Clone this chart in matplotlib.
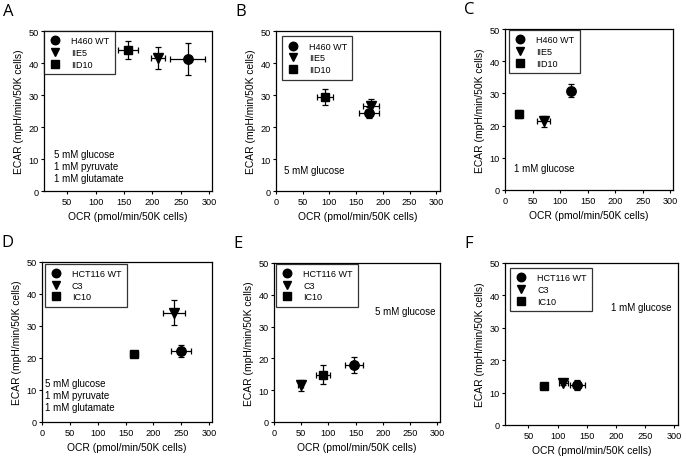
import matplotlib
matplotlib.use("Agg")
import matplotlib.pyplot as plt

plt.rcParams['font.family'] = ['Liberation Sans', 'DejaVu Sans']

panels = ['A', 'B', 'C', 'D', 'E', 'F']

# circle (wild type)
wt_ocr = [262, 174, 119, 249, 147, 134]
wt_ocr_err = [31, 19, 5, 18, 16, 13]
wt_ecar = [41.3, 24.4, 30.8, 22.2, 18.0, 12.4]
wt_ecar_err = [4.9, 1.7, 2.0, 2.0, 2.5, 1.5]

# triangle
tri_ocr = [210, 177, 70, 237, 49, 110]
tri_ocr_err = [13, 15, 11, 20, 4, 8]
tri_ecar = [41.6, 26.5, 21.3, 34.1, 11.5, 13.0]
tri_ecar_err = [3.5, 2.1, 1.8, 3.9, 1.7, 0.8]

# square
sq_ocr = [157, 91, 25, 165, 90, 76]
sq_ocr_err = [18, 15, 5, 7, 13, 6]
sq_ecar = [44.1, 29.3, 23.5, 21.4, 14.9, 12.1]
sq_ecar_err = [2.7, 2.5, 1.2, 0.8, 3.0, 1.0]

h460_labels = ['H460 WT', 'IIE5', 'IID10']
hct_labels = ['HCT116 WT', 'C3', 'IC10']
conditions = ['5 mM glucose\n1 mM pyruvate\n1 mM glutamate', '5 mM glucose', '1 mM glucose',
              '5 mM glucose\n1 mM pyruvate\n1 mM glutamate', '5 mM glucose', '1 mM glucose']

W, H = 686, 460
# axes boxes in pixels: left, top, right, bottom
boxes = [(44, 32, 212, 192), (276, 32, 440, 192), (505, 30, 673, 191),
         (42, 263, 212, 423), (274, 264, 440, 423), (505, 264, 678, 426)]
xlims = [(9, 305), (0, 307), (0, 305), (0, 305), (0, 305), (10, 306)]
leg_anchor = [(0.0, 1.0), (0.035, 0.967), (0.024, 0.994), (0.016, 0.99), (0.014, 0.996), (0.029, 0.97)]
text_pos = [(0.06, 0.265, 'left'), (0.05, 0.16, 'left'), (0.054, 0.17, 'left'),
            (0.02, 0.275, 'left'), (0.97, 0.73, 'right'), (0.96, 0.76, 'right')]

fig = plt.figure(figsize=(W / 100, H / 100), dpi=100)

for i, p in enumerate(panels):
    l, t, r, b = boxes[i]
    ax = fig.add_axes([l / W, 1 - b / H, (r - l) / W, (b - t) / H])
    labels = h460_labels if i < 3 else hct_labels
    series = [(wt_ocr, wt_ocr_err, wt_ecar, wt_ecar_err, 'o', 6.8),
              (tri_ocr, tri_ocr_err, tri_ecar, tri_ecar_err, 'v', 6.8),
              (sq_ocr, sq_ocr_err, sq_ecar, sq_ecar_err, 's', 6.2)]
    for k, (x, xe, y, ye, m, ms) in enumerate(series):
        ax.errorbar(x[i], y[i], xerr=xe[i], yerr=ye[i], fmt='none', ecolor='black',
                    elinewidth=0.9, capsize=2, capthick=0.9, zorder=2)
        ax.plot(x[i], y[i], marker=m, color='black', markersize=ms, linestyle='none',
                label=labels[k], zorder=3)
    ax.set_xlim(*xlims[i])
    ax.set_ylim(0, 50)
    if xlims[i][0] > 0:
        ax.set_xticks([50, 100, 150, 200, 250, 300])
    else:
        ax.set_xticks([0, 50, 100, 150, 200, 250, 300])
    ax.set_yticks([0, 10, 20, 30, 40, 50])
    ax.tick_params(direction='out', length=2.5, width=0.8, labelsize=6.6, pad=1.5)
    for s in ax.spines.values():
        s.set_linewidth(0.9)
    ax.set_xlabel('OCR (pmol/min/50K cells)', fontsize=7.4, labelpad=4)
    ax.set_ylabel('ECAR (mpH/min/50K cells)', fontsize=7.4, labelpad=3)
    leg = ax.legend(loc='upper left', bbox_to_anchor=leg_anchor[i], borderaxespad=0,
                    fontsize=6.5, frameon=True, fancybox=False, edgecolor='black',
                    handlelength=1.2, handletextpad=1.2, borderpad=0.6, labelspacing=0.3,
                    markerscale=0.9)
    leg.get_frame().set_linewidth(0.9)
    tx, ty, ha = text_pos[i]
    ax.text(tx, ty, conditions[i], transform=ax.transAxes, ha=ha, va='top',
            fontsize=7, linespacing=1.25)
    fig.text((l - 41) / W, 1 - (t - 20) / H, p, fontsize=12, family='Open Sans',
             ha='left', va='center')

fig.savefig('out.png', dpi=100)
